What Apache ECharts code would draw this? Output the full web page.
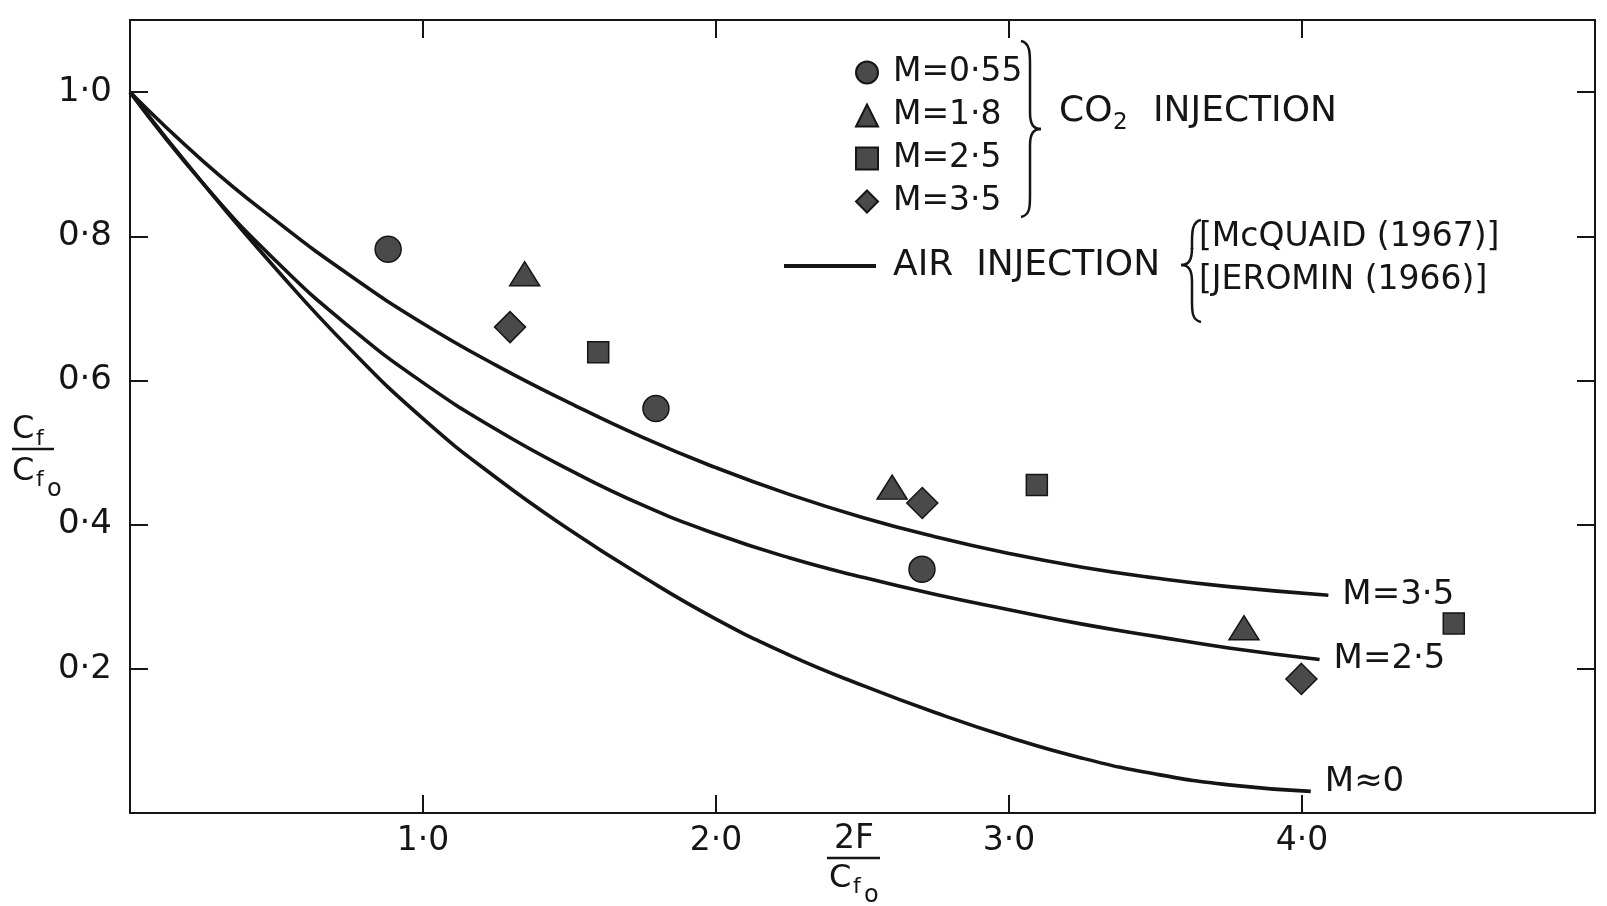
<!DOCTYPE html>
<html>
<head>
<meta charset="utf-8">
<script src="https://cdn.jsdelivr.net/npm/echarts@6/dist/echarts.min.js"></script>
<style>
  html, body { margin: 0; padding: 0; background: #ffffff; }
  #chart { width: 1607px; height: 906px; }
</style>
</head>
<body>
<div id="chart"></div>
<script>
// Air-injection curves (dimensionless 2F/Cfo vs Cf/Cfo)
const curveX35 = [0, 0.25, 0.5, 0.75, 1.0, 1.25, 1.5, 1.75, 2.0, 2.25, 2.5, 2.75, 3.0, 3.25, 3.5, 3.75, 4.09];
const curveY35 = [1.0, 0.904, 0.821, 0.746, 0.679, 0.621, 0.569, 0.521, 0.479, 0.442, 0.410, 0.383, 0.360, 0.341, 0.326, 0.314, 0.302];
const curveX25 = [0, 0.25, 0.5, 0.75, 1.0, 1.25, 1.5, 1.75, 2.0, 2.25, 2.5, 2.75, 3.0, 3.25, 3.5, 3.75, 4.06];
const curveY25 = [1.0, 0.873, 0.765, 0.674, 0.597, 0.532, 0.476, 0.427, 0.387, 0.354, 0.327, 0.303, 0.282, 0.262, 0.245, 0.229, 0.213];
const curveX0 = [0, 0.25, 0.5, 0.75, 1.0, 1.25, 1.5, 1.75, 2.0, 2.25, 2.5, 2.75, 3.0, 3.25, 3.5, 3.75, 4.03];
const curveY0 = [1.0, 0.873, 0.754, 0.644, 0.547, 0.465, 0.393, 0.328, 0.269, 0.219, 0.177, 0.139, 0.105, 0.076, 0.054, 0.039, 0.030];

// CO2-injection measurements
const m055X = [0.881, 1.795, 2.703];
const m055Y = [0.782, 0.561, 0.338];
const m18X = [1.347, 2.601, 3.802];
const m18Y = [0.748, 0.452, 0.257];
const m25X = [1.598, 3.095, 4.518];
const m25Y = [0.639, 0.455, 0.263];
const m35X = [1.297, 2.704, 3.998];
const m35Y = [0.674, 0.430, 0.186];

// Tick labels
const xTickLabels = ['', '1·0', '2·0', '3·0', '4·0', ''];
const yTickLabels = ['', '0·2', '0·4', '0·6', '0·8', '1·0'];

const FONT = 'DejaVu Sans';
const INK = '#151515';
const MARK_FILL = '#4a4a4a';

function pairs(xs, ys) { return xs.map((x, i) => [x, ys[i]]); }

function curve(xs, ys, label, offset) {
  return {
    name: 'AIR INJECTION',
    type: 'line',
    data: pairs(xs, ys),
    smooth: 0.5,
    symbol: 'none',
    showSymbol: false,
    lineStyle: { color: INK, width: 3.6 },
    itemStyle: { color: INK },
    endLabel: {
      show: true,
      formatter: label,
      fontFamily: FONT,
      fontSize: 34,
      color: INK,
      distance: 14,
      offset: offset
    },
    z: 3
  };
}

function points(name, xs, ys, symbol, size) {
  return {
    name: name,
    type: 'scatter',
    data: pairs(xs, ys),
    symbol: symbol,
    symbolSize: size,
    itemStyle: { color: MARK_FILL, borderColor: INK, borderWidth: 1.5, opacity: 1 },
    z: 4
  };
}

// Curly brace built from bezier pieces; dir = 1 points right, -1 points left
function brace(x, top, mid, bottom, dir) {
  const s = { fill: 'none', stroke: INK, lineWidth: 2.5 };
  const hook = 9 * dir, tip = 11 * dir;
  const sx = x - hook;
  return [
    { type: 'bezierCurve', shape: { x1: sx, y1: top, cpx1: x + 1 * dir, cpy1: top + 2, cpx2: x, cpy2: top + 14, x2: x, y2: top + 29 }, style: s },
    { type: 'line', shape: { x1: x, y1: top + 29, x2: x, y2: mid - 17 }, style: s },
    { type: 'bezierCurve', shape: { x1: x, y1: mid - 17, cpx1: x, cpy1: mid - 5, cpx2: x + 3 * dir, cpy2: mid, x2: x + tip, y2: mid }, style: s },
    { type: 'bezierCurve', shape: { x1: x + tip, y1: mid, cpx1: x + 3 * dir, cpy1: mid, cpx2: x, cpy2: mid + 5, x2: x, y2: mid + 17 }, style: s },
    { type: 'line', shape: { x1: x, y1: mid + 17, x2: x, y2: bottom - 27 }, style: s },
    { type: 'bezierCurve', shape: { x1: x, y1: bottom - 27, cpx1: x, cpy1: bottom - 12, cpx2: x + 1 * dir, cpy2: bottom - 2, x2: sx, y2: bottom }, style: s }
  ];
}

function label(text, x, y, size, extra) {
  return { type: 'text', x: x, y: y, style: Object.assign({ text: text, fontFamily: FONT, fontSize: size, fill: INK, verticalAlign: 'middle' }, extra || {}) };
}

function axisLine() { return { show: true, onZero: false, lineStyle: { color: INK, width: 2 } }; }
function innerTick() { return { show: true, inside: true, length: 18, lineStyle: { color: INK, width: 2 } }; }

const chart = echarts.init(document.getElementById('chart'), null, { renderer: 'canvas' });

chart.setOption({
  animation: false,
  backgroundColor: '#ffffff',
  textStyle: { fontFamily: FONT, color: INK },
  grid: { left: 130, right: 12, top: 20, bottom: 93, show: false },
  xAxis: [
    {
      type: 'value', min: 0, max: 5, interval: 1, position: 'bottom', z: 10,
      axisLine: axisLine(), axisTick: innerTick(), splitLine: { show: false },
      axisLabel: {
        margin: 12, fontSize: 33, fontFamily: FONT, color: INK,
        formatter: v => xTickLabels[Math.round(v)] || ''
      }
    },
    {
      type: 'value', min: 0, max: 5, interval: 1, position: 'top', z: 10,
      axisLine: axisLine(), axisTick: innerTick(), splitLine: { show: false },
      axisLabel: { show: false }
    }
  ],
  yAxis: [
    {
      type: 'value', min: 0, max: 1.1, interval: 0.2, position: 'left', z: 10,
      axisLine: axisLine(), axisTick: innerTick(), splitLine: { show: false },
      axisLabel: {
        margin: 18, fontSize: 34, fontFamily: FONT, color: INK,
        formatter: v => {
          const i = Math.round(v / 0.2);
          return Math.abs(v - i * 0.2) < 1e-6 && yTickLabels[i] ? yTickLabels[i] : '';
        }
      }
    },
    {
      type: 'value', min: 0, max: 1.1, interval: 0.2, position: 'right', z: 10,
      axisLine: axisLine(), axisTick: innerTick(), splitLine: { show: false },
      axisLabel: { show: false }
    }
  ],
  legend: [
    {
      orient: 'vertical', left: 850, top: 51,
      itemWidth: 22, itemHeight: 22, itemGap: 10,
      selectedMode: false,
      data: ['M=0·55', 'M=1·8', 'M=2·5', 'M=3·5'],
      textStyle: { fontFamily: FONT, fontSize: 33, color: INK, lineHeight: 22, padding: [0, 0, 0, 10] }
    },
    {
      orient: 'horizontal', left: 779, top: 243,
      itemWidth: 92, itemHeight: 22,
      selectedMode: false,
      data: [{ name: 'AIR INJECTION', icon: 'path://M0,0 L92,0 L92,4 L0,4 Z' }],
      formatter: () => 'AIR  INJECTION',
      textStyle: { fontFamily: FONT, fontSize: 36, color: INK, lineHeight: 22, padding: [0, 0, 0, 12] }
    }
  ],
  graphic: [].concat(
    brace(1030, 41, 129, 217, 1),
    [
      label('CO', 1059, 112, 36),
      label('2', 1113, 123, 23),
      label('INJECTION', 1153, 112, 36)
    ],
    brace(1192, 220, 265, 322, -1),
    [
      label('[McQUAID (1967)]', 1199, 237, 33),
      label('[JEROMIN (1966)]', 1199, 280, 33),
      // y-axis title Cf / Cfo
      label('C', 12, 430, 32),
      label('f', 36, 439, 22),
      { type: 'line', shape: { x1: 12, y1: 449, x2: 54, y2: 449 }, style: { stroke: INK, lineWidth: 2.5 } },
      label('C', 12, 472, 32),
      label('f', 36, 480, 22),
      label('o', 47, 490, 24),
      // x-axis title 2F / Cfo
      label('2F', 854, 839, 33, { align: 'center' }),
      { type: 'line', shape: { x1: 827, y1: 858, x2: 880, y2: 858 }, style: { stroke: INK, lineWidth: 2.5 } },
      label('C', 829, 879, 32),
      label('f', 853, 887, 22),
      label('o', 864, 896, 24)
    ]
  ),
  series: [
    curve(curveX35, curveY35, 'M=3·5', [0, 0]),
    curve(curveX25, curveY25, 'M=2·5', [0, 0]),
    curve(curveX0, curveY0, 'M≈0', [0, -9]),
    points('M=0·55', m055X, m055Y, 'circle', 26),
    points('M=1·8', m18X, m18Y, 'triangle', [30, 24]),
    points('M=2·5', m25X, m25Y, 'rect', 21),
    points('M=3·5', m35X, m35Y, 'diamond', 31)
  ]
});
</script>
</body>
</html>
